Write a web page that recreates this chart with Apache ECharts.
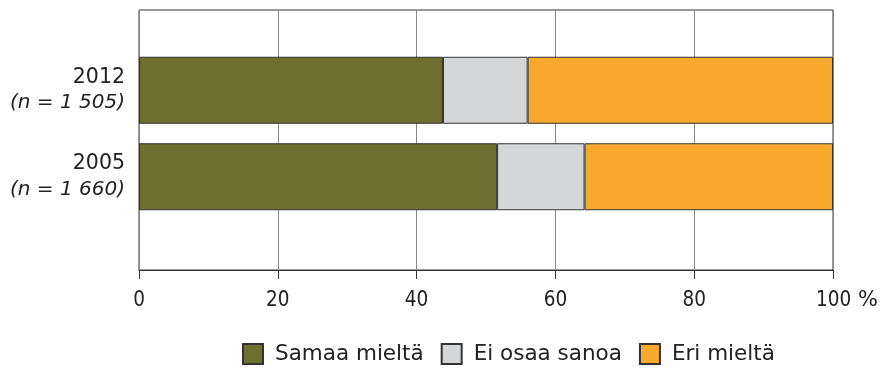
<!DOCTYPE html>
<html>
<head>
<meta charset="utf-8">
<script src="https://cdn.jsdelivr.net/npm/echarts@6/dist/echarts.min.js"></script>
<style>
  html, body { margin: 0; padding: 0; background: #fff; }
  #chart { width: 885px; height: 369px; }
</style>
</head>
<body>
<div id="chart"></div>
<script>
// Survey years and respondent counts
const categories = ['2012', '2005'];
const sampleSizes = ['1 505', '1 660'];

// Shares of answers, %
const samaaMielta = [43.8, 51.6];
const eiOsaaSanoa = [12.2, 12.6];
const eriMielta = [44.0, 35.8];

// Axis ticks, %
const tickValues = [0, 20, 40, 60, 80, 100];

const FONT = 'DejaVu Sans, Verdana, sans-serif';
const FONT_COND = '"DejaVu Sans Condensed", "DejaVu Sans", sans-serif';
const TEXT = '#222';
const chart = echarts.init(document.getElementById('chart'), null, { renderer: 'canvas' });

const barStyle = (color) => ({ color: color, borderColor: '#333', borderWidth: 1 });

chart.setOption({
  animation: false,
  textStyle: { fontFamily: FONT },
  grid: [
    // frame with the vertical gridlines and the percentage axis
    { left: 139, right: 52, top: 10, height: 260, show: true, borderColor: '#333', borderWidth: 1, backgroundColor: 'transparent' },
    // the bars themselves
    { left: 139, right: 52, top: 47, height: 173 }
  ],
  xAxis: [
    {
      gridIndex: 0, type: 'value', min: tickValues[0], max: tickValues[tickValues.length - 1], interval: 20,
      axisLine: { show: true, lineStyle: { color: '#333', width: 1 } },
      axisTick: { show: true, length: 9, lineStyle: { color: '#333' } },
      splitLine: { show: true, lineStyle: { color: '#888', width: 1 } },
      axisLabel: {
        margin: 20, color: TEXT, fontSize: 20.5, fontFamily: FONT_COND,
        formatter: (v) => v === 100 ? '{v|' + v + '}{p| %}' : String(v),
        rich: {
          v: { fontSize: 20.5, fontFamily: FONT_COND, color: TEXT, padding: [0, 0, 0, 28] },
          p: { fontSize: 21, fontFamily: FONT, color: TEXT }
        }
      }
    },
    {
      gridIndex: 1, type: 'value', min: 0, max: 100, show: false
    }
  ],
  yAxis: [
    { gridIndex: 0, type: 'value', show: false },
    {
      gridIndex: 1, type: 'category', data: categories, inverse: true,
      axisLine: { show: false }, axisTick: { show: false },
      axisLabel: {
        margin: 14, align: 'right',
        formatter: (v, i) => '{y|' + v + '}\n{n|(n = ' + sampleSizes[i] + ')}',
        rich: {
          y: { fontSize: 20.5, fontFamily: FONT, color: TEXT, lineHeight: 26, align: 'right' },
          n: { fontSize: 20, fontFamily: FONT, fontStyle: 'italic', color: TEXT, lineHeight: 26, align: 'right' }
        }
      }
    }
  ],
  legend: {
    bottom: 4, left: 242, padding: 0,
    icon: 'rect', itemWidth: 20, itemHeight: 20, itemGap: 17,
    textStyle: { fontSize: 21.5, fontFamily: FONT, color: TEXT, padding: [0, 0, 0, 7] },
    data: ['Samaa mieltä', 'Ei osaa sanoa', 'Eri mieltä']
  },
  series: [
    { name: 'Samaa mieltä', type: 'bar', stack: 'all', xAxisIndex: 1, yAxisIndex: 1, barWidth: 67, data: samaaMielta, itemStyle: barStyle('#6c6f2f') },
    { name: 'Ei osaa sanoa', type: 'bar', stack: 'all', xAxisIndex: 1, yAxisIndex: 1, barWidth: 67, data: eiOsaaSanoa, itemStyle: barStyle('#d5d6d8') },
    { name: 'Eri mieltä', type: 'bar', stack: 'all', xAxisIndex: 1, yAxisIndex: 1, barWidth: 67, data: eriMielta, itemStyle: barStyle('#f9aa2e') }
  ]
});
</script>
</body>
</html>
